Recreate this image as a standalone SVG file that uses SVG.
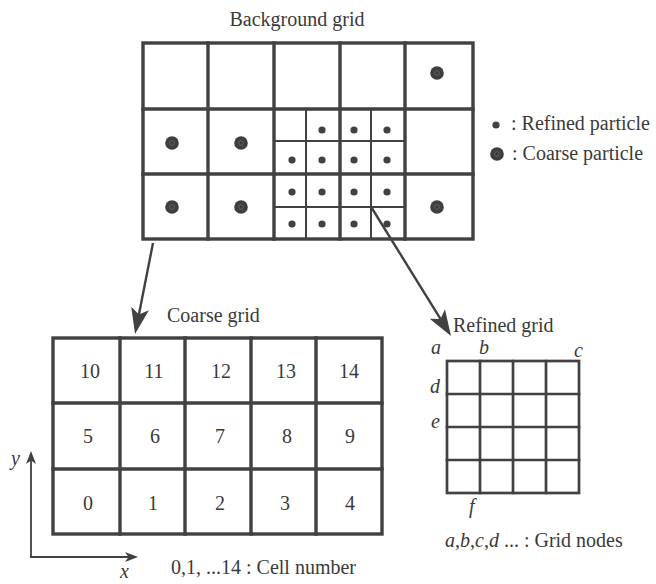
<svg xmlns="http://www.w3.org/2000/svg" width="656" height="584" viewBox="0 0 656 584">
  <style>
    .txt { font-family: "Liberation Serif", "Times New Roman", serif; font-size: 20px; fill: #3a3a3a; }
    .it { font-style: italic; }
    .thick { stroke: #414141; stroke-width: 3.4; fill: none; stroke-linecap: square; }
    .thin { stroke: #414141; stroke-width: 2; fill: none; }
    .mid { stroke: #414141; stroke-width: 2.7; fill: none; stroke-linecap: square; }
    .conn { stroke: #414141; stroke-width: 2.4; fill: none; }
    .axis { stroke: #414141; stroke-width: 1.8; fill: none; }
    .dot { fill: #414141; }
    .coarse { fill: #3e3e3e; }
    .core { fill: none; stroke: #6a6a6a; stroke-width: 0.7; }
  </style>
  <defs>
    <marker id="bigHead" viewBox="0 0 26 18" refX="18" refY="9" markerWidth="26" markerHeight="18" markerUnits="userSpaceOnUse" orient="auto">
      <path d="M0,0 L26,9 L0,18 L6,9 Z" fill="#414141"/>
    </marker>
    <marker id="axisHead" viewBox="0 0 13 10" refX="7" refY="5" markerWidth="13" markerHeight="10" markerUnits="userSpaceOnUse" orient="auto">
      <path d="M0,0 L13,5 L0,10 L3.5,5 Z" fill="#414141"/>
    </marker>
    <g id="coarseParticle">
      <circle r="6.8" class="coarse"/>
      <circle r="2.4" class="core"/>
    </g>
  </defs>

  <rect width="656" height="584" fill="#ffffff"/>

  <!-- Background grid with refined patch and particles -->
  <g id="background-grid">
    <text class="txt" x="297" y="26" text-anchor="middle">Background grid</text>
    <!-- refined sub-cells inside columns 2-3, rows 1-2 -->
    <path class="thin" d="M306,109 V239 M371,109 V239 M274,141 H405 M274,207 H405"/>
    <rect class="thick" x="143" y="43" width="330" height="196"/>
    <path class="thick" d="M208,43 V239 M274,43 V239 M340,43 V239 M405,43 V239 M143,109 H473 M143,174 H473"/>
    <!-- refined particles -->
    <g class="dot">
      <circle cx="322" cy="130" r="3.6"/>
      <circle cx="354" cy="130" r="3.6"/>
      <circle cx="387" cy="130" r="3.6"/>
      <circle cx="292" cy="160" r="3.6"/>
      <circle cx="322" cy="160" r="3.6"/>
      <circle cx="354" cy="160" r="3.6"/>
      <circle cx="387" cy="160" r="3.6"/>
      <circle cx="292" cy="192" r="3.6"/>
      <circle cx="322" cy="192" r="3.6"/>
      <circle cx="354" cy="192" r="3.6"/>
      <circle cx="387" cy="192" r="3.6"/>
      <circle cx="292" cy="224" r="3.6"/>
      <circle cx="322" cy="224" r="3.6"/>
      <circle cx="354" cy="224" r="3.6"/>
      <circle cx="387" cy="224" r="3.6"/>
    </g>
    <!-- coarse particles -->
    <use href="#coarseParticle" x="437" y="73"/>
    <use href="#coarseParticle" x="172" y="143"/>
    <use href="#coarseParticle" x="241" y="143"/>
    <use href="#coarseParticle" x="172" y="207"/>
    <use href="#coarseParticle" x="241" y="207"/>
    <use href="#coarseParticle" x="437" y="207"/>
  </g>

  <!-- Particle legend -->
  <g id="legend">
    <circle class="dot" cx="496" cy="125" r="3.6"/>
    <text class="txt" x="511" y="130">: Refined particle</text>
    <use href="#coarseParticle" x="497" y="154"/>
    <text class="txt" x="512" y="160">: Coarse particle</text>
  </g>

  <!-- Coarse grid with cell numbers -->
  <g id="coarse-grid">
    <text class="txt" x="167" y="322">Coarse grid</text>
    <rect class="thick" x="53" y="338" width="329" height="196"/>
    <path class="thick" d="M120,338 V534 M185,338 V534 M251,338 V534 M316,338 V534 M53,403 H382 M53,469 H382"/>
    <g class="txt" text-anchor="middle">
      <text x="90" y="378">10</text>
      <text x="154" y="378">11</text>
      <text x="221" y="378">12</text>
      <text x="286" y="378">13</text>
      <text x="349" y="378">14</text>
      <text x="88" y="443">5</text>
      <text x="155" y="443">6</text>
      <text x="220" y="443">7</text>
      <text x="287" y="443">8</text>
      <text x="350" y="443">9</text>
      <text x="88" y="510">0</text>
      <text x="153" y="510">1</text>
      <text x="220" y="510">2</text>
      <text x="285" y="510">3</text>
      <text x="350" y="510">4</text>
    </g>
    <text class="txt" x="171" y="574">0,1, ...14 : Cell number</text>
  </g>

  <!-- Coordinate axes -->
  <g id="axes">
    <path class="axis" d="M31,557 V457" marker-end="url(#axisHead)"/>
    <path class="axis" d="M30,557 H132" marker-end="url(#axisHead)"/>
    <text class="txt it" x="11" y="465">y</text>
    <text class="txt it" x="120" y="578">x</text>
  </g>

  <!-- Refined grid with node labels -->
  <g id="refined-grid">
    <text class="txt" x="453" y="332">Refined grid</text>
    <rect class="mid" x="447" y="361" width="132" height="132"/>
    <path class="mid" d="M480,361 V493 M513,361 V493 M546,361 V493 M447,394 H579 M447,427 H579 M447,460 H579"/>
    <g class="txt it">
      <text x="431" y="354">a</text>
      <text x="479" y="354">b</text>
      <text x="574" y="357">c</text>
      <text x="430" y="393">d</text>
      <text x="431" y="428">e</text>
      <text x="469" y="513">f</text>
    </g>
    <text class="txt" x="445" y="547"><tspan class="it">a</tspan>,<tspan class="it">b</tspan>,<tspan class="it">c</tspan>,<tspan class="it">d</tspan> ... : Grid nodes</text>
  </g>

  <!-- Connectors -->
  <g id="connectors">
    <path class="conn" d="M153,243 L136.6,326.2" marker-end="url(#bigHead)"/>
    <path class="conn" d="M371.5,207.5 L446.8,329.2" marker-end="url(#bigHead)"/>
  </g>
</svg>
